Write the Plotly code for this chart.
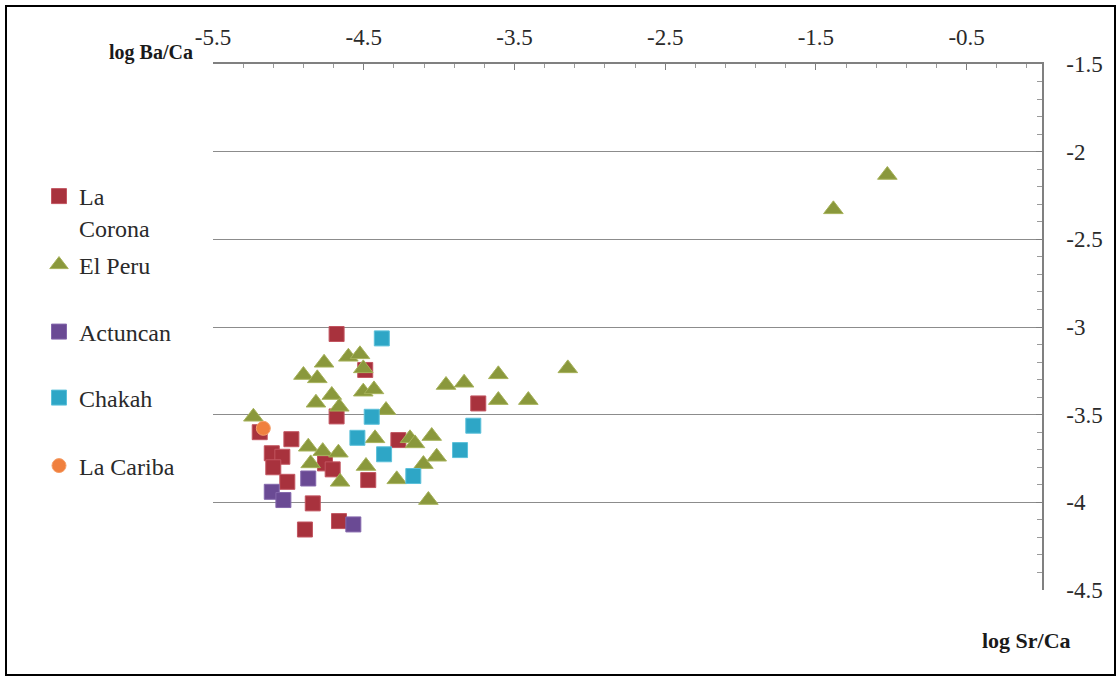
import plotly.graph_objects as go

# ---- data (log Sr/Ca, log Ba/Ca) ----
la_corona_x = [-4.68, -4.49, -4.68, -5.19, -4.98, -5.11, -5.04, -5.10, -4.757, -4.706,
               -5.007, -4.47, -4.838, -4.89, -4.664, -3.74, -4.27]
la_corona_y = [-3.04, -3.245, -3.51, -3.60, -3.64, -3.72, -3.74, -3.80, -3.778, -3.812,
               -3.883, -3.873, -4.006, -4.155, -4.107, -3.436, -3.645]

el_peru_x = [-5.232, -4.90, -4.763, -4.808, -4.602, -4.525, -4.503, -4.503, -4.432, -4.817,
             -4.712, -4.662, -4.352, -4.868, -4.772, -4.668, -4.852, -4.657, -4.485, -4.425,
             -4.193, -4.16, -4.049, -4.104, -4.016, -4.281, -4.071, -3.954, -3.834, -3.607,
             -3.607, -3.408, -3.146, -1.026, -1.384]
el_peru_y = [-3.512, -3.274, -3.204, -3.293, -3.17, -3.156, -3.236, -3.369, -3.356, -3.432,
             -3.388, -3.455, -3.474, -3.683, -3.708, -3.717, -3.778, -3.883, -3.793, -3.635,
             -3.635, -3.664, -3.622, -3.782, -3.74, -3.869, -3.987, -3.331, -3.318, -3.27,
             -3.417, -3.417, -3.236, -2.133, -2.329]

actuncan_x = [-4.868, -5.11, -5.033, -4.569]
actuncan_y = [-3.864, -3.94, -3.987, -4.126]

chakah_x = [-4.38, -4.447, -4.542, -4.365, -4.171, -3.773, -3.861]
chakah_y = [-3.065, -3.512, -3.632, -3.726, -3.85, -3.563, -3.702]

la_cariba_x = [-5.166]
la_cariba_y = [-3.578]

x_ticks = [-5.5, -4.5, -3.5, -2.5, -1.5, -0.5]
y_ticks = [-1.5, -2, -2.5, -3, -3.5, -4, -4.5]

# ---- layout geometry (pixels) ----
W, H = 1120, 679
L, R, T, B = 213, 1042, 64, 590
PW, PH = R - L, B - T

def px(xp):
    return (xp - L) / PW

def py(yp):
    return (B - yp) / PH

SERIF = "Liberation Serif, Times New Roman, serif"

fig = go.Figure()

series = [
    ("La<br>Corona", la_corona_x, la_corona_y, "square", 15, "#A8323D", "#C25560", "legend"),
    ("El Peru", el_peru_x, el_peru_y, "triangle-up", 17, "#8A983C", "#A6B25A", "legend2"),
    ("Actuncan", actuncan_x, actuncan_y, "square", 15, "#6A4A94", "#8467AC", "legend3"),
    ("Chakah", chakah_x, chakah_y, "square", 15, "#2EA6C6", "#5CC0DA", "legend4"),
    ("La Cariba", la_cariba_x, la_cariba_y, "circle", 14, "#F0803E", "#F6A06A", "legend5"),
]
for name, xs, ys, sym, size, fill, edge, lg in series:
    fig.add_trace(go.Scatter(
        x=xs, y=ys, mode="markers", name=name, legend=lg,
        marker=dict(symbol=sym, size=size, color=fill, line=dict(color=edge, width=1)),
    ))

# legend centres (pixel y of each item's middle)
leg_centres = {"legend": 212, "legend2": 265, "legend3": 332, "legend4": 398, "legend5": 466}
leg_common = dict(x=px(39), xanchor="left", yanchor="middle", bgcolor="rgba(0,0,0,0)",
                  font=dict(family=SERIF, size=24, color="#2a2a2a"), valign="top",
                  itemsizing="trace", tracegroupgap=0)
legends = {}
for k, yc in leg_centres.items():
    legends[k] = dict(leg_common, y=py(yc))

fig.update_layout(
    width=W, height=H,
    margin=dict(l=L, r=W - R, t=T, b=H - B),
    paper_bgcolor="white", plot_bgcolor="white",
    font=dict(family=SERIF, color="#2a2a2a"),
    showlegend=True,
    **legends,
    xaxis=dict(
        range=[-5.5, 0], side="top", tickmode="array", tickvals=x_ticks,
        ticktext=[str(v) for v in x_ticks],
        ticks="inside", ticklen=6, tickcolor="#7f7f7f", tickwidth=1,
        minor=dict(dtick=0.2, tick0=-5.5, ticks="inside", ticklen=4, tickcolor="#9a9a9a", showgrid=False),
        showline=True, linecolor="#808080", linewidth=1.5, showgrid=False, zeroline=False,
        tickfont=dict(family=SERIF, size=23, color="#2a2a2a"), ticklabelstandoff=8,
    ),
    yaxis=dict(
        range=[-4.5, -1.5], side="right", tickmode="array", tickvals=y_ticks,
        ticktext=[str(v) for v in y_ticks],
        ticks="inside", ticklen=6, tickcolor="#7f7f7f", tickwidth=1,
        minor=dict(dtick=0.1, tick0=-4.5, ticks="inside", ticklen=5, tickcolor="#9a9a9a", showgrid=False),
        showline=True, linecolor="#808080", linewidth=1.5,
        showgrid=True, gridcolor="#8c8c8c", gridwidth=1.3, zeroline=False,
        tickfont=dict(family=SERIF, size=23, color="#2a2a2a"), ticklabelstandoff=18,
    ),
    annotations=[
        dict(text="<b>log Ba/Ca</b>", xref="paper", yref="paper", x=px(195), y=py(52),
             xanchor="right", yanchor="middle", showarrow=False,
             font=dict(family=SERIF, size=20, color="#1a1a1a")),
        dict(text="<b>log Sr/Ca</b>", xref="paper", yref="paper", x=px(1026), y=py(640),
             xanchor="center", yanchor="middle", showarrow=False,
             font=dict(family=SERIF, size=22, color="#1a1a1a")),
    ],
    shapes=[
        dict(type="rect", xref="paper", yref="paper", x0=px(6), x1=px(1115), y0=py(675), y1=py(6),
             line=dict(color="black", width=2), fillcolor="rgba(0,0,0,0)", layer="below"),
    ],
)

fig.write_html("out.html", config={"displayModeBar": False},
               post_script="document.body.style.margin='0';")
